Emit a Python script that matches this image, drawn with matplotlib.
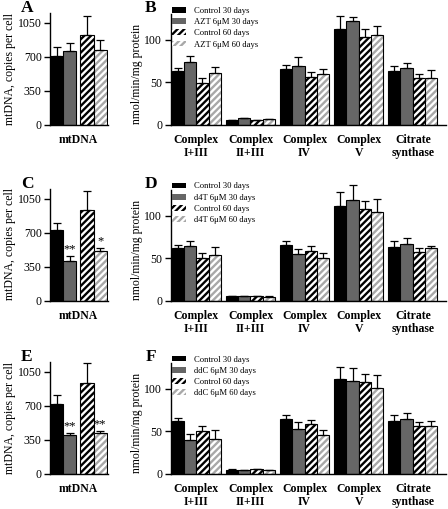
import numpy as np
import matplotlib
matplotlib.use("Agg")
import matplotlib.pyplot as plt
from matplotlib.patches import Patch

plt.rcParams['font.family'] = ['Liberation Serif', 'DejaVu Serif']
plt.rcParams['hatch.linewidth'] = 1.7

# --- data ---
drugs = ['AZT', 'd4T', 'ddC']
series = ['Control 30 days', '{} 6\u03bcM 30 days', 'Control 60 days', '{} 6\u03bcM 60 days']
enzymes = ['Complex\nI+III', 'Complex\nII+III', 'Complex\nIV', 'Complex\nV', 'Citrate\nsynthase']

# mtDNA copies per cell (control 30d, drug 30d, control 60d, drug 60d)
mtdna_azt = [705, 762, 921, 769]
mtdna_azt_err = [95, 79, 200, 107]
mtdna_d4t = [722, 404, 930, 506]
mtdna_d4t_err = [82, 58, 202, 38]
mtdna_ddc = [721, 402, 934, 413]
mtdna_ddc_err = [88, 14, 203, 28]
mtdna_stars_d4t = ['', '**', '', '*']
mtdna_stars_ddc = ['', '**', '', '**']

# enzyme activities, rows = enzymes, cols = series
enz_azt = [[63, 74, 49, 60.6], [5, 7.5, 5.5, 6.5], [65.4, 69, 56, 59.5],
           [113, 122, 104, 106], [63, 67, 55, 55]]
enz_azt_err = [[4.3, 7, 6, 7.4], [0.6, 0.7, 0.5, 0.4], [5.6, 10.5, 6, 6.5],
               [15, 5, 9, 10], [6, 5.4, 4.5, 9]]
enz_d4t = [[62, 64, 50, 54], [5, 5, 5, 4.5], [65, 55, 58.7, 50],
           [112, 119, 108, 105], [62.6, 66.5, 56.7, 61.8]]
enz_d4t_err = [[4, 6.4, 6, 9.6], [0.3, 0.3, 0.3, 0.3], [5.5, 5.6, 5.9, 6],
               [16, 17, 9.7, 15], [7.1, 7.5, 4.7, 2.2]]
enz_ddc = [[61.4, 39.4, 49.6, 41.3], [4.7, 4.3, 5.1, 4.3], [63.8, 52.4, 57.9, 45.3],
           [112, 108.7, 107.5, 100.8], [61.8, 64.6, 55.5, 55.5]]
enz_ddc_err = [[4.3, 7.5, 5.9, 9.5], [0.3, 0.3, 0.3, 0.3], [5.5, 8.2, 5.5, 5.5],
               [14, 15.7, 9.5, 15.2], [6.7, 6.4, 5.1, 5.9]]

GRAY = '#666666'
LIGHT = '#a8a8a8'
HATCH = '/////'
W, H = 448, 509


def draw_bars(ax, xs, vals, errs):
    # 4 styles: black, gray, black hatch, light hatch
    ax.bar(xs[0], vals[0], width=1, color='black', edgecolor='black', linewidth=0.8)
    ax.bar(xs[1], vals[1], width=1, color=GRAY, edgecolor='black', linewidth=0.8)
    ax.bar(xs[2], vals[2], width=1, color='white', edgecolor='black', hatch=HATCH, linewidth=0.8)
    ax.bar(xs[3], vals[3], width=1, color='white', edgecolor=LIGHT, hatch=HATCH, linewidth=0)
    ax.bar(xs[3], vals[3], width=1, fill=False, edgecolor='black', linewidth=0.8)
    eb = ax.errorbar(xs, vals, yerr=[np.zeros(len(vals)), errs], fmt='none', ecolor='black',
                     elinewidth=0.9, capsize=3, capthick=0.9)
    for art in eb.get_children():
        art.set_clip_on(False)


def style_axes(ax):
    for s in ['top', 'right']:
        ax.spines[s].set_visible(False)
    for s in ['left', 'bottom']:
        ax.spines[s].set_linewidth(1)
    ax.tick_params(axis='y', direction='out', length=4, width=1, labelsize=8.5, pad=2)
    ax.tick_params(axis='x', length=0, pad=7)


def px_axes(fig, left, top, right, bottom):
    return fig.add_axes([left / W, 1 - bottom / H, (right - left) / W, (bottom - top) / H])


fig = plt.figure(figsize=(W / 100, H / 100), dpi=100)

mt_data = [(mtdna_azt, mtdna_azt_err, None), (mtdna_d4t, mtdna_d4t_err, mtdna_stars_d4t),
           (mtdna_ddc, mtdna_ddc_err, mtdna_stars_ddc)]
enz_data = [(enz_azt, enz_azt_err), (enz_d4t, enz_d4t_err), (enz_ddc, enz_ddc_err)]
bottoms = [124.7, 300.5, 473.5]
letters = [('A', 'B'), ('C', 'D'), ('E', 'F')]

for row in range(3):
    bot = bottoms[row]
    # mtDNA panel
    ax = px_axes(fig, 50, bot - 112, 108, bot)
    vals, errs, stars = mt_data[row]
    xs = np.array([0.5, 1.5, 2.8, 3.8])
    draw_bars(ax, xs, vals, errs)
    if stars:
        for x, v, e, s in zip(xs, vals, errs, stars):
            if s:
                ax.annotate(s, (x, v + e), xytext=(0, 0.5), textcoords='offset points',
                            ha='center', va='bottom', fontsize=9)
    ax.set_xlim(0, 4.4)
    ax.set_ylim(0, 1155)
    ax.set_yticks([0, 350, 700, 1050])
    ax.set_xticks([2.15])
    ax.set_xticklabels(['mtDNA'], fontsize=8.5, fontweight='bold')
    style_axes(ax)
    fig.text(10 / W, 1 - (bot - 56) / H, 'mtDNA, copies per cell', rotation=90,
             ha='center', va='center', fontsize=8.5)
    fig.text(27 / W, 1 - (bot - 116.5) / H, letters[row][0], ha='center', va='center',
             fontsize=12.5, fontweight='bold')

    # enzyme panel
    ax = px_axes(fig, 170.5, bot - 111, 446, bot)
    vals, errs = enz_data[row]
    for g in range(len(enzymes)):
        gx = g * 4.4 + np.array([0.5, 1.5, 2.5, 3.5])
        draw_bars(ax, gx, vals[g], errs[g])
    ax.set_xlim(-0.1, 22.3)
    ax.set_ylim(0, 131)
    ax.set_yticks([0, 50, 100])
    ax.set_xticks([g * 4.4 + 2 for g in range(len(enzymes))])
    ax.set_xticklabels(enzymes, fontsize=8.5, fontweight='bold', linespacing=1.1)
    style_axes(ax)
    fig.text(137 / W, 1 - (bot - 51) / H, 'nmol/min/mg protein', rotation=90,
             ha='center', va='center', fontsize=8.5)
    fig.text(151 / W, 1 - (bot - 116.5) / H, letters[row][1], ha='center', va='center',
             fontsize=12.5, fontweight='bold')

    handles = [Patch(facecolor='black', edgecolor='black', linewidth=0),
               Patch(facecolor=GRAY, edgecolor=GRAY, linewidth=0),
               Patch(facecolor='white', edgecolor='black', hatch=HATCH, linewidth=0),
               Patch(facecolor='white', edgecolor=LIGHT, hatch=HATCH, linewidth=0)]
    labels = [s.format(drugs[row]) for s in series]
    fig.legend(handles, labels, loc='upper left', bbox_to_anchor=(172 / W, 1 - (bot - 118) / H),
               frameon=False, fontsize=6.2, handlelength=1.6, handleheight=0.65,
               handletextpad=0.9, labelspacing=0.38, borderpad=0, borderaxespad=0)

fig.savefig('out.png', dpi=100)
